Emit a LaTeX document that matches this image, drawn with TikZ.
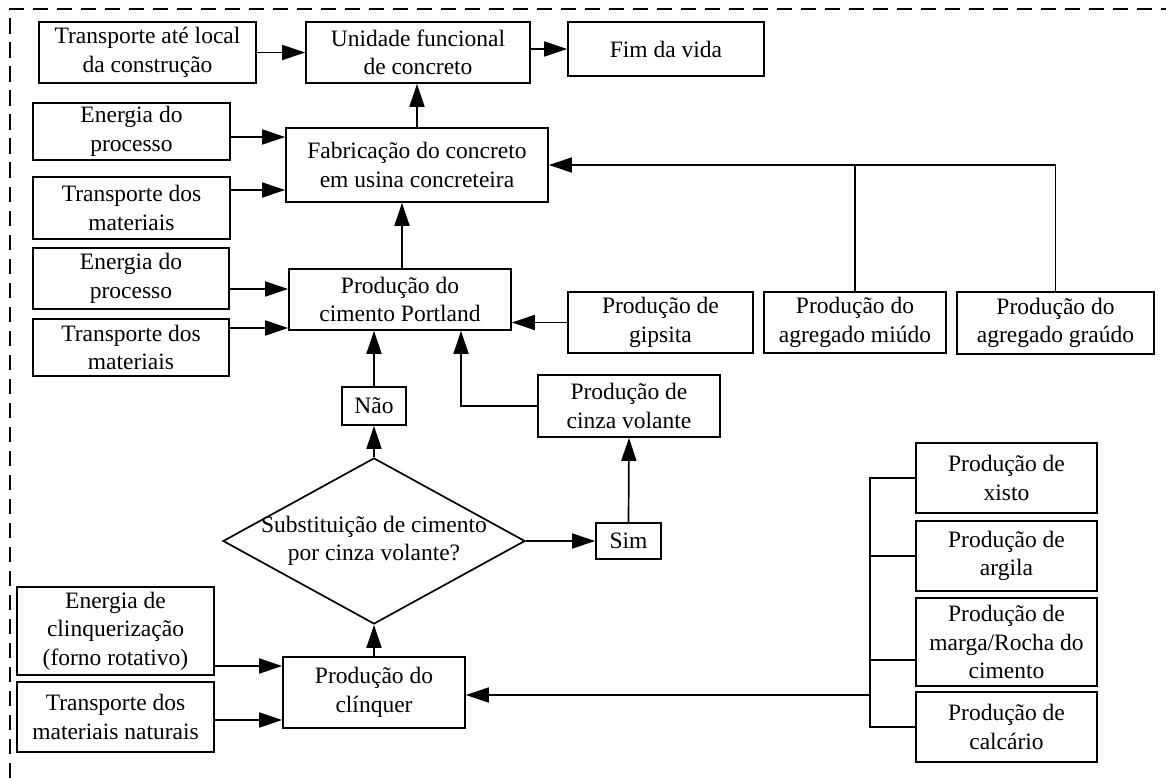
\documentclass[tikz,border=0pt]{standalone}
\usepackage{fontspec}
\setmainfont{Liberation Serif}
\usetikzlibrary{shapes.geometric,arrows.meta}
\tikzset{
  every node/.style={font=\fontsize{23.5}{28.5}\selectfont},
  box/.style={draw, line width=1.7pt, align=center, inner sep=0pt},
  arr/.style={line width=1.7pt, -{Triangle[length=23pt,width=15pt]}},
  ln/.style={line width=1.7pt},
  border/.style={line width=2pt, dash pattern=on 15.5pt off 8.5pt}
}
\begin{document}
\begin{tikzpicture}[x=1pt,y=-1pt]
\useasboundingbox (0,0) rectangle (1166,778);
\draw[border] (9.5,778) -- (9.5,9) -- (1166,9);

\node[box, minimum width=217, minimum height=61] (tac) at (147.5,52.5) {Transporte até local\\da construção};
\node[box, minimum width=224, minimum height=61] (uf) at (418,52.5) {Unidade funcional\\de concreto};
\node[box, minimum width=196, minimum height=54] (fim) at (666,49) {Fim da vida};
\node[box, minimum width=197, minimum height=57] (e1) at (131.5,131.5) {Energia do\\processo};
\node[box, minimum width=197, minimum height=62] (t1) at (131.5,208) {Transporte dos\\materiais};
\node[box, minimum width=262, minimum height=74] (fab) at (417,165) {Fabricação do concreto\\em usina concreteira};
\node[box, minimum width=196, minimum height=61] (e2) at (131,278.5) {Energia do\\processo};
\node[box, minimum width=196, minimum height=57] (t2) at (131,347.5) {Transporte dos\\materiais};
\node[box, minimum width=222, minimum height=61] (cim) at (400,299.5) {Produção do\\cimento Portland};
\node[box, minimum width=185, minimum height=61] (gip) at (660.5,322.5) {Produção de\\gipsita};
\node[box, minimum width=182, minimum height=61] (miu) at (855,322.5) {Produção do\\agregado miúdo};
\node[box, minimum width=197, minimum height=62] (gra) at (1055.5,323) {Produção do\\agregado graúdo};
\node[box, minimum width=64, minimum height=38] (nao) at (374,406) {Não};
\node[box, minimum width=182, minimum height=62] (cinza) at (629,406) {Produção de\\cinza volante};
\node[box, minimum width=65, minimum height=36] (sim) at (628.5,541) {Sim};
\node[draw, diamond, line width=1.7pt, minimum width=302, minimum height=166, inner sep=0pt] (dia) at (374,541) {};
\node[align=center] (diatxt) at (dia.center) {Substituição de cimento\\por cinza volante?};
\node[box, minimum width=197, minimum height=88] (ecl) at (115.5,631) {Energia de\\clinquerização\\(forno rotativo)};
\node[box, minimum width=197, minimum height=70] (tmn) at (115.5,717) {Transporte dos\\materiais naturais};
\node[box, minimum width=182, minimum height=71] (cl) at (374,692.5) {Produção do\\clínquer};
\node[box, minimum width=181, minimum height=70] (xis) at (1006.5,478) {Produção de\\xisto};
\node[box, minimum width=181, minimum height=70] (arg) at (1006.5,556) {Produção de\\argila};
\node[box, minimum width=181, minimum height=88] (mar) at (1006.5,642) {Produção de\\marga/Rocha do\\cimento};
\node[box, minimum width=181, minimum height=70] (cal) at (1006.5,727) {Produção de\\calcário};

% top row
\draw[arr] (tac.east) -- (uf.west);
\draw[arr] (uf.east |- fim.west) -- (fim.west);
\draw[arr] (fab.north) -- (fab.north |- uf.south);
% inputs to fabricacao
\draw[arr] (e1.east |- 0,137) -- (fab.west |- 0,137);
\draw[arr] (t1.east |- 0,190) -- (fab.west |- 0,190);
\draw[arr] (gra.north) |- (fab.east);
\draw[ln] (miu.north) -- (miu.north |- fab.east);
\draw[arr] ([xshift=2]cim.north) -- ([xshift=2]cim.north |- fab.south);
% inputs to cimento
\draw[arr] (e2.east |- 0,289) -- (cim.west |- 0,289);
\draw[arr] (t2.east |- 0,328) -- (cim.west |- 0,328);
\draw[arr] (gip.west) -- (gip.west -| cim.east);
\draw[arr] (nao.north) -- (nao.north |- cim.south);
\draw[arr] (cinza.west) -| ([xshift=61]cim.south);
% decision
\draw[arr] (dia.north) -- (nao.south);
\draw[arr] (dia.east) -- (sim.west);
\draw[arr] (sim.north) -- (cinza.south);
\draw[arr] (cl.north) -- (dia.south);
% inputs to clinquer
\draw[arr] (ecl.east |- 0,666) -- (cl.west |- 0,666);
\draw[arr] (tmn.east |- 0,720) -- (cl.west |- 0,720);
% raw materials tree
\coordinate (jt) at (870,478);
\coordinate (jb) at (870,727);
\coordinate (jc) at (870,695);
\draw[ln] (xis.west) -- (jt) -- (jb) -- (cal.west);
\draw[ln] (arg.west) -- (arg.west -| jt);
\draw[ln] ([yshift=-18]mar.west) -- ([yshift=-18]mar.west -| jt);
\draw[arr] (jc) -- (cl.east |- jc);
\end{tikzpicture}
\end{document}
